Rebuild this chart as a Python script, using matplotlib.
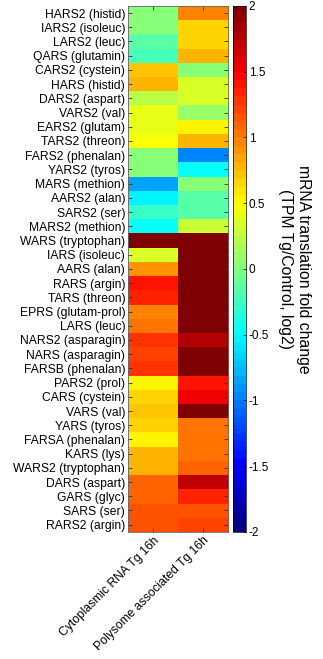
import numpy as np
import matplotlib.pyplot as plt
from matplotlib.colors import LinearSegmentedColormap

plt.rcParams['font.family'] = ['Liberation Sans', 'DejaVu Sans']

genes = ['HARS2 (histid)', 'IARS2 (isoleuc)', 'LARS2 (leuc)', 'QARS (glutamin)',
         'CARS2 (cystein)', 'HARS (histid)', 'DARS2 (aspart)', 'VARS2 (val)',
         'EARS2 (glutam)', 'TARS2 (threon)', 'FARS2 (phenalan)', 'YARS2 (tyros)',
         'MARS (methion)', 'AARS2 (alan)', 'SARS2 (ser)', 'MARS2 (methion)',
         'WARS (tryptophan)', 'IARS (isoleuc)', 'AARS (alan)', 'RARS (argin)',
         'TARS (threon)', 'EPRS (glutam-prol)', 'LARS (leuc)', 'NARS2 (asparagin)',
         'NARS (asparagin)', 'FARSB (phenalan)', 'PARS2 (prol)', 'CARS (cystein)',
         'VARS (val)', 'YARS (tyros)', 'FARSA (phenalan)', 'KARS (lys)',
         'WARS2 (tryptophan)', 'DARS (aspart)', 'GARS (glyc)', 'SARS (ser)',
         'RARS2 (argin)']
conditions = ['Cytoplasmic RNA Tg 16h', 'Polysome associated Tg 16h']

# log2 fold change, cytoplasmic RNA
cyto = [0.05, 0.03, -0.17, -0.23, 0.72, 0.78, 0.20, 0.40, 0.40, 0.45,
        0.00, 0.00, -0.85, -0.55, -0.30, -0.45, 2.20, 0.35, 0.90, 1.40,
        1.35, 0.95, 1.00, 1.25, 1.20, 1.25, 0.50, 0.65, 0.72, 0.63,
        0.55, 0.78, 0.78, 1.08, 1.08, 1.15, 1.15]
# log2 fold change, polysome associated
poly = [0.95, 0.65, 0.65, 0.78, 0.05, 0.32, 0.35, 0.10, 0.50, 0.75,
        -1.00, -0.50, 0.05, -0.15, -0.15, 0.25, 2.20, 2.20, 2.20, 2.20,
        2.20, 2.20, 2.20, 1.80, 2.20, 2.20, 1.40, 1.55, 2.00, 1.00,
        1.00, 1.05, 1.10, 1.70, 1.35, 1.15, 1.20]

data = np.column_stack([cyto, poly])

# MATLAB-style jet, 64 levels
jet = LinearSegmentedColormap.from_list(
    'mjet', [(0, (0, 0, 0.5)), (1/8, (0, 0, 1)), (3/8, (0, 1, 1)),
             (5/8, (1, 1, 0)), (7/8, (1, 0, 0)), (1, (0.5, 0, 0))], N=64)

fig = plt.figure(figsize=(3.23, 6.59), dpi=100)
ax = fig.add_axes([0.396, 0.193, 0.310, 0.798])
cax = fig.add_axes([0.721, 0.193, 0.040, 0.798])

im = ax.imshow(data, cmap=jet, vmin=-2, vmax=2,
               aspect='auto', interpolation='nearest')

ax.set_yticks(range(len(genes)))
ax.set_yticklabels(genes, fontsize=8.7)
ax.set_xticks(range(len(conditions)))
ax.set_xticklabels(conditions, fontsize=8.7, rotation=45, ha='right',
                   rotation_mode='anchor')
ax.tick_params(direction='in', length=3, width=0.6, color='0.2',
               top=True, right=True, pad=2)
for s in ax.spines.values():
    s.set_linewidth(0.6)
    s.set_color('0.4')

cb = fig.colorbar(im, cax=cax)
cb.set_ticks([-2, -1.5, -1, -0.5, 0, 0.5, 1, 1.5, 2])
cb.set_ticklabels(['-2', '-1.5', '-1', '-0.5', '0', '0.5', '1', '1.5', '2'])
cb.ax.tick_params(labelsize=8.5, direction='in', length=2, width=0.5, pad=2)
cb.outline.set_linewidth(0.5)
cb.set_label('mRNA translation fold change\n(TPM Tg/Control, log2)',
             rotation=-90, fontsize=11.3, labelpad=30)

plt.savefig('out.png', dpi=100)
